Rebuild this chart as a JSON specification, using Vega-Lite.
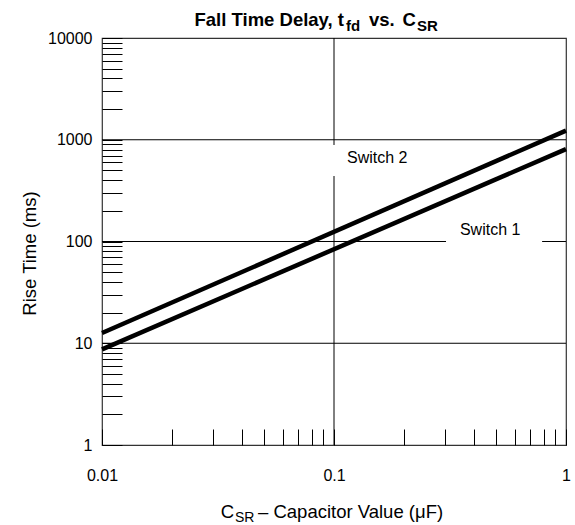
{
  "$schema": "https://vega.github.io/schema/vega-lite/v6.json",
  "width": 464,
  "height": 407,
  "autosize": {"type": "none"},
  "padding": {"left": 102, "top": 38, "right": 9, "bottom": 80},
  "background": "white",
  "config": {
    "font": "Liberation Sans",
    "view": {"stroke": "#333", "strokeWidth": 1.2},
    "axis": {"grid": false, "domain": false, "tickColor": "#000", "tickWidth": 1, "labelFont": "Liberation Sans", "labelFontSize": 16, "labelColor": "#000", "labelOverlap": false, "labelFlush": false, "labelBound": false, "titleFont": "Liberation Sans", "titleFontWeight": "normal", "titleColor": "#000"}
  },
  "datasets": {
    "grid": [
      {"x1": 0.01, "x2": 1, "y1": 10, "y2": 10},
      {"x1": 0.01, "x2": 0.304, "y1": 100, "y2": 100},
      {"x1": 0.789, "x2": 1, "y1": 100, "y2": 100},
      {"x1": 0.01, "x2": 1, "y1": 1000, "y2": 1000},
      {"x1": 0.1, "x2": 0.1, "y1": 1, "y2": 440},
      {"x1": 0.1, "x2": 0.1, "y1": 888, "y2": 10000}
    ],
    "curves": [
      {"series": "Switch 2", "c": 0.01, "t": 12.6},
      {"series": "Switch 2", "c": 1, "t": 1230},
      {"series": "Switch 1", "c": 0.01, "t": 8.7},
      {"series": "Switch 1", "c": 1, "t": 810}
    ],
    "labels": [
      {"label": "Switch 2", "c": 0.1138, "t": 662},
      {"label": "Switch 1", "c": 0.349, "t": 130}
    ],
    "one": [{"k": 1}]
  },
  "layer": [
    {
      "data": {"name": "grid"},
      "mark": {"type": "rule", "color": "#000", "strokeWidth": 1},
      "encoding": {
        "x": {"field": "x1", "type": "quantitative", "scale": {"type": "log", "domain": [0.01, 1], "nice": false},
          "axis": {"values": [0.01,0.02,0.03,0.04,0.05,0.06,0.07,0.08,0.09,0.1,0.2,0.3,0.4,0.5,0.6,0.7,0.8,0.9,1], "tickSize": -16, "labelPadding": 38, "labelExpr": "indexof([0.01,0.1,1], datum.value) >= 0 ? format(datum.value, '~g') : ''", "title": null}},
        "x2": {"field": "x2"},
        "y": {"field": "y1", "type": "quantitative", "scale": {"type": "log", "domain": [1, 10000], "nice": false},
          "axis": {"values": [1,2,3,4,5,6,7,8,9,10,20,30,40,50,60,70,80,90,100,200,300,400,500,600,700,800,900,1000,2000,3000,4000,5000,6000,7000,8000,9000,10000], "tickSize": -20, "labelPadding": 30, "labelExpr": "indexof([1,10,100,1000,10000], datum.value) >= 0 ? format(datum.value, 'd') : ''", "title": "Rise Time (ms)", "titleFontSize": 18.5, "titleX": -73, "titleY": 215, "titleAngle": -90, "titleAlign": "center", "titleBaseline": "middle"}},
        "y2": {"field": "y2"}
      }
    },
    {
      "data": {"name": "curves"},
      "mark": {"type": "line", "color": "#000", "strokeWidth": 4.5},
      "encoding": {
        "x": {"field": "c", "type": "quantitative"},
        "y": {"field": "t", "type": "quantitative"},
        "detail": {"field": "series"}
      }
    },
    {
      "data": {"name": "labels"},
      "mark": {"type": "text", "align": "left", "baseline": "middle", "fontSize": 16, "font": "Liberation Sans", "color": "#000"},
      "encoding": {
        "x": {"field": "c", "type": "quantitative"},
        "y": {"field": "t", "type": "quantitative"},
        "text": {"field": "label"}
      }
    },
    {
      "data": {"name": "one"},
      "mark": {"type": "text", "align": "right", "baseline": "alphabetic", "fontSize": 18.5, "fontWeight": "bold", "dy": -12, "color": "#000"},
      "encoding": {"x": {"datum": 0.1104}, "y": {"datum": 10000}, "text": {"value": "Fall Time Delay, t"}}
    },
    {
      "data": {"name": "one"},
      "mark": {"type": "text", "align": "left", "baseline": "alphabetic", "fontSize": 15, "fontWeight": "bold", "dy": -7, "color": "#000"},
      "encoding": {"x": {"datum": 0.11265}, "y": {"datum": 10000}, "text": {"value": "fd"}}
    },
    {
      "data": {"name": "one"},
      "mark": {"type": "text", "align": "left", "baseline": "alphabetic", "fontSize": 18.5, "fontWeight": "bold", "dy": -12, "color": "#000"},
      "encoding": {"x": {"datum": 0.14152}, "y": {"datum": 10000}, "text": {"value": "vs."}}
    },
    {
      "data": {"name": "one"},
      "mark": {"type": "text", "align": "right", "baseline": "alphabetic", "fontSize": 18.5, "fontWeight": "bold", "dy": -12, "color": "#000"},
      "encoding": {"x": {"datum": 0.2256}, "y": {"datum": 10000}, "text": {"value": "C"}}
    },
    {
      "data": {"name": "one"},
      "mark": {"type": "text", "align": "left", "baseline": "alphabetic", "fontSize": 15, "fontWeight": "bold", "dy": -7, "dx": 1, "color": "#000"},
      "encoding": {"x": {"datum": 0.2256}, "y": {"datum": 10000}, "text": {"value": "SR"}}
    },
    {
      "data": {"name": "one"},
      "mark": {"type": "text", "align": "right", "baseline": "alphabetic", "fontSize": 18.5, "dy": 73, "color": "#000"},
      "encoding": {"x": {"datum": 0.03707}, "y": {"datum": 1}, "text": {"value": "C"}}
    },
    {
      "data": {"name": "one"},
      "mark": {"type": "text", "align": "left", "baseline": "alphabetic", "fontSize": 14, "dy": 77, "color": "#000"},
      "encoding": {"x": {"datum": 0.03743}, "y": {"datum": 1}, "text": {"value": "SR"}}
    },
    {
      "data": {"name": "one"},
      "mark": {"type": "text", "align": "left", "baseline": "alphabetic", "fontSize": 18.5, "dy": 73, "color": "#000"},
      "encoding": {"x": {"datum": 0.04704}, "y": {"datum": 1}, "text": {"value": "– Capacitor Value (μF)"}}
    }
  ]
}
